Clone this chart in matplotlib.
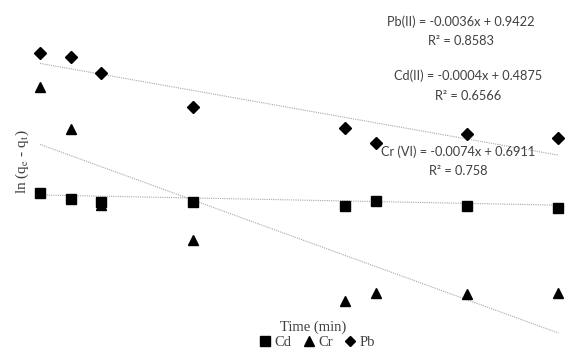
import numpy as np
import matplotlib
matplotlib.use('Agg')
import matplotlib.pyplot as plt
from matplotlib.lines import Line2D

# contact time (min)
time_min = [5, 10, 15, 30, 55, 60, 75, 90]

# ln(qe - qt) for each metal
ln_cd = [0.492, 0.472, 0.462, 0.462, 0.449, 0.466, 0.449, 0.442]
ln_cr = [0.846, 0.706, 0.452, 0.336, 0.132, 0.159, 0.156, 0.159]
ln_pb = [0.959, 0.946, 0.892, 0.779, 0.709, 0.659, 0.689, 0.676]

# linear trendline coefficients (slope, intercept, R2)
fit_pb = (-0.0036, 0.9422, 0.8583)
fit_cd = (-0.0004, 0.4875, 0.6566)
fit_cr = (-0.0074, 0.6911, 0.758)

W, H = 566, 349
fig = plt.figure(figsize=(W / 100, H / 100), dpi=100)
ax = fig.add_axes([0, 0, 1, 1])
ax.set_xlim(-1.56, 91.23)
ax.set_ylim(-0.028, 1.1355)
ax.axis('off')

t = np.array(time_min)
for (m, b, _) in (fit_pb, fit_cd, fit_cr):
    ax.plot([t[0], t[-1]], [m * t[0] + b, m * t[-1] + b],
            color='#a6a6a6', linestyle=(0, (1, 1)), linewidth=0.8, zorder=1)

ax.plot(t, ln_cd, 's', color='black', markersize=7.5, zorder=3, label='Cd')
ax.plot(t, ln_cr, '^', color='black', markersize=7.5, zorder=3, label='Cr')
ax.plot(t, ln_pb, 'D', color='black', markersize=6.3, zorder=3, label='Pb')

eq_font = dict(family='Lato', fontsize=9.2, color='#404040', ha='center', va='center')


def px(x, y):
    return x / W, 1 - y / H


def eq_label(name, fit, xc, y1, y2):
    m, b, r2 = fit
    sign = '+' if b >= 0 else '-'
    fig.text(*px(xc, y1), f'{name} = {m:.4f}x {sign} {abs(b):.4f}', **eq_font)
    fig.text(*px(xc, y2), f'R² = {r2:g}', **eq_font)


eq_label('Pb(II)', fit_pb, 461, 22, 41)
eq_label('Cd(II)', fit_cd, 468, 76, 96)
eq_label('Cr (VI)', fit_cr, 458, 152, 171)

plt.rcParams['mathtext.fontset'] = 'stix'
fig.text(*px(22, 162), r'ln (q$_\mathrm{e}$ - q$_\mathrm{t}$)', rotation=90,
         family='Liberation Serif', fontsize=11, color='#404040',
         ha='center', va='center')
fig.text(*px(313, 327), 'Time (min)', family='Liberation Serif',
         fontsize=10.5, color='#404040', ha='center', va='center')

handles = [Line2D([], [], marker='s', color='black', linestyle='none', markersize=7),
           Line2D([], [], marker='^', color='black', linestyle='none', markersize=7),
           Line2D([], [], marker='D', color='black', linestyle='none', markersize=5.5)]
leg = fig.legend(handles, ['Cd', 'Cr', 'Pb'], loc='center', ncol=3,
                 bbox_to_anchor=px(317, 342), frameon=False,
                 prop={'family': 'Liberation Serif', 'size': 10.5},
                 handlelength=0.8, handletextpad=0.25, columnspacing=0.8,
                 borderpad=0)
for txt in leg.get_texts():
    txt.set_color('#404040')

fig.savefig('out.png', dpi=100)
